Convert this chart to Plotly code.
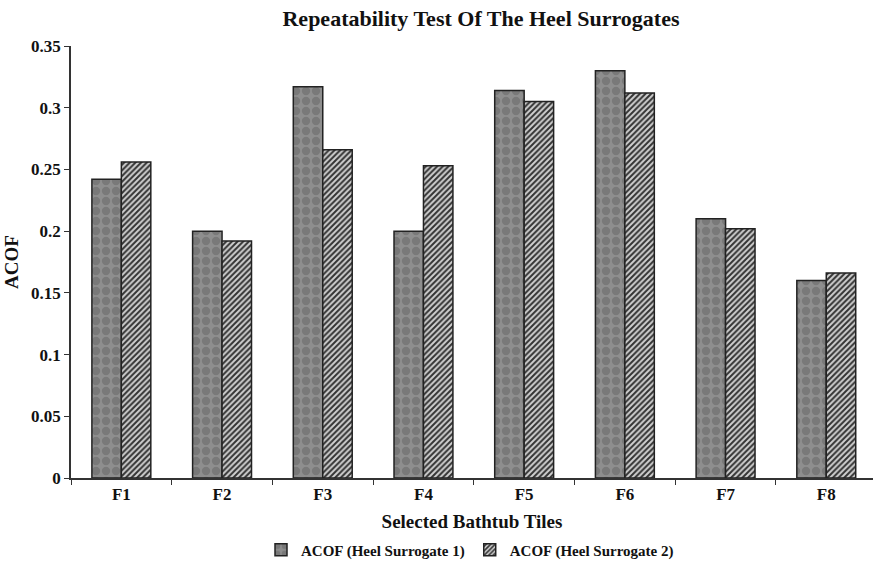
import plotly.graph_objects as go

categories = ["F1", "F2", "F3", "F4", "F5", "F6", "F7", "F8"]
surrogate1 = [0.242, 0.200, 0.317, 0.200, 0.314, 0.330, 0.210, 0.160]
surrogate2 = [0.256, 0.192, 0.266, 0.253, 0.305, 0.312, 0.202, 0.166]
yticks = [0, 0.05, 0.1, 0.15, 0.2, 0.25, 0.3, 0.35]
ytick_text = ["0", "0.05", "0.1", "0.15", "0.2", "0.25", "0.3", "0.35"]

FONT = "Liberation Serif"

fig = go.Figure()
fig.add_trace(go.Bar(
    x=categories, y=surrogate1, name="ACOF (Heel Surrogate 1)",
    marker=dict(color="#8c8c8c",
                line=dict(color="#222222", width=1.5),
                pattern=dict(shape=".", fgcolor="#646464", bgcolor="#8e8e8e",
                             size=10, solidity=0.55, fillmode="overlay")),
))
fig.add_trace(go.Bar(
    x=categories, y=surrogate2, name="ACOF (Heel Surrogate 2)",
    marker=dict(color="#ffffff",
                line=dict(color="#222222", width=1.5),
                pattern=dict(shape="/", fgcolor="#333333", bgcolor="#d0d0d0",
                             size=4, solidity=0.5, fillmode="replace")),
))

fig.update_layout(
    width=873, height=568,
    margin=dict(l=71, r=0, t=46, b=90),
    paper_bgcolor="white", plot_bgcolor="white",
    barmode="group", bargap=0.415, bargroupgap=0,
    font=dict(family=FONT, size=17, color="#111111", weight="bold"),
    title=dict(text="Repeatability Test Of The Heel Surrogates",
               x=481/873, xref="container", xanchor="center",
               y=1-18/568, yref="container", yanchor="middle",
               font=dict(family=FONT, size=22, weight="bold", color="#111111")),
    xaxis=dict(range=[-0.5, 7.464], showline=True, linecolor="#333333", linewidth=1.5,
               ticks="outside", tickson="boundaries", ticklen=5, tickcolor="#333333",
               tickfont=dict(family=FONT, size=17, weight="bold"),
               title=dict(text="Selected Bathtub Tiles", standoff=12,
                          font=dict(family=FONT, size=19, weight="bold")),
               showgrid=False, zeroline=False),
    yaxis=dict(range=[0, 0.35], tickvals=yticks, ticktext=ytick_text,
               showline=True, linecolor="#333333", linewidth=1.5,
               ticks="outside", ticklen=5, tickcolor="#333333",
               tickfont=dict(family=FONT, size=17, weight="bold"),
               title=dict(text="ACOF", standoff=7,
                          font=dict(family=FONT, size=19, weight="bold")),
               showgrid=False, zeroline=False),
    legend=dict(orientation="h", x=470/873, xref="container", xanchor="center",
                y=1-550/568, yref="container", yanchor="middle",
                font=dict(family=FONT, size=15, weight="bold"),
                itemwidth=30, tracegroupgap=0),
    showlegend=True,
)

fig.write_html("out.html", config={"displayModeBar": False},
               post_script="document.body.style.margin='0';document.body.style.overflow='hidden';")
